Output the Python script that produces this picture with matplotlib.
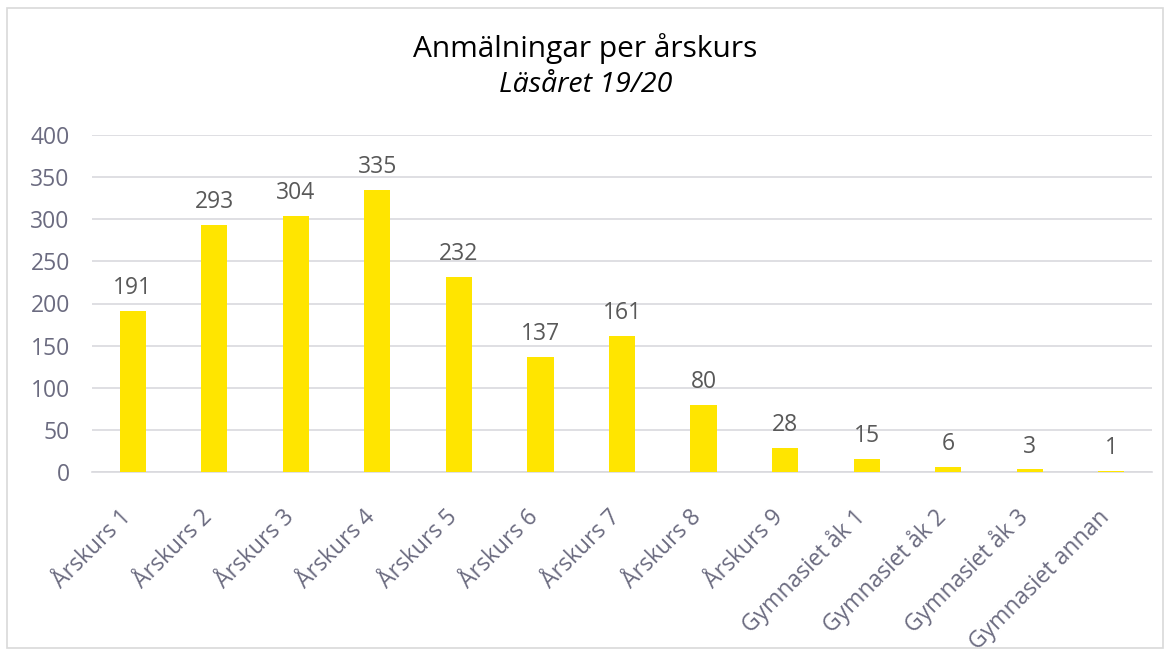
import matplotlib
matplotlib.use('Agg')
import matplotlib.pyplot as plt
import matplotlib.transforms as mtransforms
from matplotlib.patches import Rectangle

kategorier = ['Årskurs 1', 'Årskurs 2', 'Årskurs 3', 'Årskurs 4', 'Årskurs 5',
              'Årskurs 6', 'Årskurs 7', 'Årskurs 8', 'Årskurs 9',
              'Gymnasiet åk 1', 'Gymnasiet åk 2', 'Gymnasiet åk 3', 'Gymnasiet annan']
antal = [191, 293, 304, 335, 232, 137, 161, 80, 28, 15, 6, 3, 1]
yticks = [0, 50, 100, 150, 200, 250, 300, 350, 400]

plt.rcParams['font.family'] = ['Open Sans', 'DejaVu Sans']

fig = plt.figure(figsize=(11.71, 6.57), dpi=100)
ax = fig.add_axes([92 / 1171, 1 - 472 / 657, 1060 / 1171, 337 / 657])

x = range(len(kategorier))
ax.bar(x, antal, width=0.32, color='#FFE500', zorder=3)

for i, v in zip(x, antal):
    ax.text(i, v + 13, str(v), ha='center', va='bottom', fontsize=16.5, color='#595959')

ax.set_xlim(-0.5, len(kategorier) - 0.5)
ax.set_ylim(0, 400)
ax.set_yticks(yticks)
ax.yaxis.grid(True, color='#D9D9DE', linewidth=1.2, zorder=0)
ax.set_axisbelow(True)
for s in ['top', 'right', 'left']:
    ax.spines[s].set_visible(False)
ax.spines['bottom'].set_color('#D9D9DE')
ax.spines['bottom'].set_linewidth(1.2)
ax.tick_params(axis='both', length=0, labelsize=16.5, labelcolor='#6B6B80')
ax.tick_params(axis='y', pad=16)
ax.set_xticks(list(x))
ax.set_xticklabels(kategorier, rotation=45, ha='right', rotation_mode='anchor')
ax.tick_params(axis='x', pad=13)

# flytta etiketterna så att slutet hamnar under stapeln
skift = mtransforms.ScaledTranslation(-0.14, -0.15, fig.dpi_scale_trans)
for lbl in ax.get_xticklabels():
    lbl.set_transform(lbl.get_transform() + skift)

fig.text(0.5, 1 - 49 / 657, 'Anmälningar per årskurs', ha='center', va='center',
         fontsize=21.5, color='black')
fig.text(0.5, 1 - 85 / 657, 'Läsåret 19/20', ha='center', va='center',
         fontsize=20.5, style='italic', color='black')

fig.patches.append(Rectangle((7 / 1171, 9 / 657), 1156 / 1171, 640 / 657,
                             transform=fig.transFigure, fill=False,
                             edgecolor='#D9D9D9', linewidth=1.2))

fig.savefig('out.png', dpi=100)
